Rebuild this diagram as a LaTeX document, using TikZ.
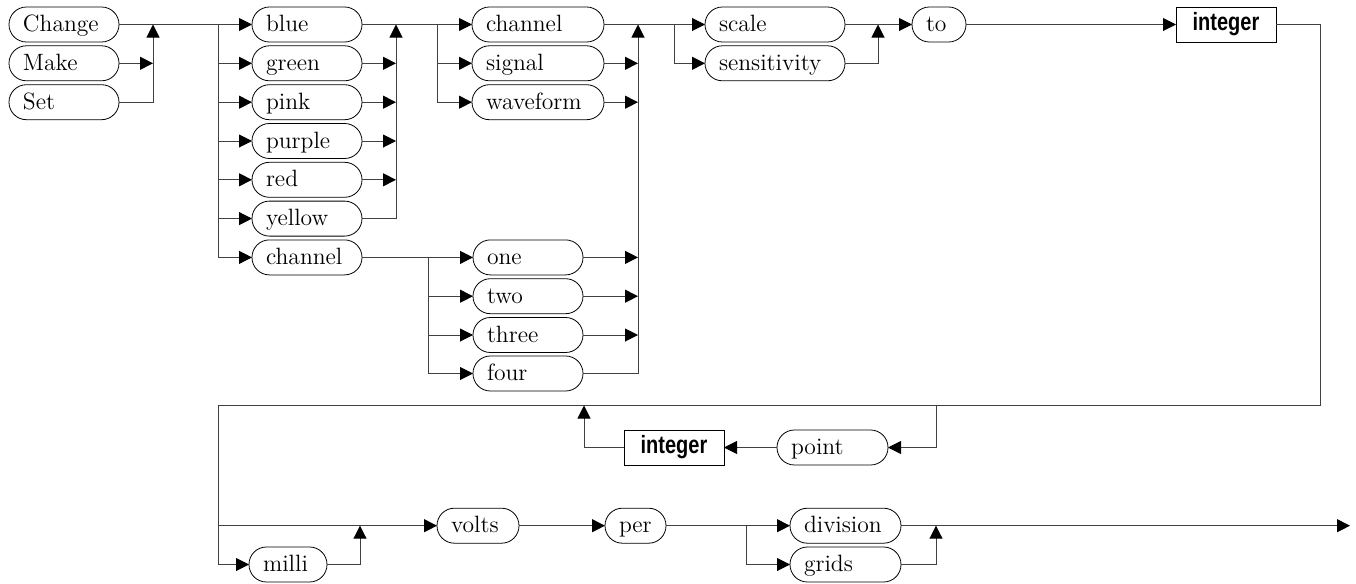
\documentclass[tikz,border=0pt]{standalone}
\usepackage{fontspec}
\usepackage{tikz}
\usetikzlibrary{arrows.meta}
\newfontfamily\intfont[FakeStretch=0.8]{Liberation Sans}

\tikzset{
  kw/.style={draw, rounded corners=8.7pt, minimum height=17.5pt, inner xsep=7pt, inner ysep=0pt,
    outer sep=0pt, anchor=west, text height=8.5pt, text depth=1.5pt, text width=#1, align=left},
  tok/.style={draw, rectangle, minimum height=17.5pt, minimum width=50pt, inner sep=0pt,
    outer sep=0pt, anchor=west, font=\intfont\bfseries\fontsize{12.5}{14}\selectfont},
  rail/.style={line width=0.5pt, draw=black!75},
}

\begin{document}
\begin{tikzpicture}[x=0.5pt, y=-0.5pt, >={Triangle[length=6.5pt,width=6.5pt,color=black]},
  every node/.append style={font=\fontsize{11.8}{13}\selectfont}]
		%%%%% START %%%%%
		\useasboundingbox (0,0) rectangle (1356,584);
		
		\node[kw=41pt] (change) at (9, 24.5) {Change};
		\node[kw=41pt] (make) at (9, 63.3) {Make};
		\node[kw=41pt] (set) at (9, 102.2) {Set};
		
		\node[kw=41pt] (blue) at (252, 24.5) {blue};
		\node[kw=41pt] (green) at (252, 63.3) {green};
		\node[kw=41pt] (pink) at (252, 102.2) {pink};
		\node[kw=41pt] (purple) at (252, 141) {purple};
		\node[kw=41pt] (red) at (252, 179.8) {red};
		\node[kw=41pt] (yellow) at (252, 218.6) {yellow};
		\node[kw=41pt] (chana) at (252, 257.4) {channel};
		
		\node[kw=41pt] (one) at (473, 257.4) {one};
		\node[kw=41pt] (two) at (473, 296.2) {two};
		\node[kw=41pt] (three) at (473, 335) {three};
		\node[kw=41pt] (four) at (473, 373.5) {four};
		
		\node[kw=52pt] (chanb) at (472, 24.5) {channel};
		\node[kw=52pt] (signal) at (472, 63.3) {signal};
		\node[kw=52pt] (waveform) at (472, 102.2) {waveform};
		
		\node[kw=56pt] (scale) at (705, 24.5) {scale};
		\node[kw=56pt] (sensitivity) at (705, 63.3) {sensitivity};
		
		\node[kw=13pt] (to) at (912, 24.5) {to};
		\node[tok] (inta) at (1176, 24.5) {integer};
		
		\node[kw=41.5pt] (point) at (777, 447.5) {point};
		\node[tok] (intb) at (624, 447.5) {integer};
		
		\node[kw=25pt] (milli) at (249, 564.5) {milli};
		\node[kw=27pt] (volts) at (437, 525.7) {volts};
		\node[kw=16.5pt] (per) at (605, 525.7) {per};
		\node[kw=41.5pt] (division) at (790, 525.7) {division};
		\node[kw=41.5pt] (grids) at (790, 564.5) {grids};
		
		% junctions
		\coordinate (m1) at (153, 24.5);
		\coordinate (b1) at (218, 24.5);
		\coordinate (m2) at (396, 24.5);
		\coordinate (b2) at (437, 24.5);
		\coordinate (b3) at (428, 257.4);
		\coordinate (m3) at (638, 24.5);
		\coordinate (b4) at (674, 24.5);
		\coordinate (m4) at (878, 24.5);
		\coordinate (lr) at (1320, 405.5);
		\coordinate (ll) at (218, 405.5);
		\coordinate (pb) at (936, 405.5);
		\coordinate (pm) at (584, 405.5);
		\coordinate (m6) at (360, 525.7);
		\coordinate (b5) at (746, 525.7);
		\coordinate (m5) at (936, 525.7);
		\coordinate (out) at (1350, 525.7);
		
		\draw[rail, ->] (change.east) -- (blue.west);
		\draw[rail, ->] (make.east) -- (make.east -| m1);
		\draw[rail, ->] (set.east) -| (m1);
		
		\foreach \c in {green,pink,purple,red,yellow,chana}
			\draw[rail, ->] (b1) |- (\c.west);
		\foreach \c in {green,pink,purple,red}
			\draw[rail, ->] (\c.east) -- (\c.east -| m2);
		\draw[rail, ->] (yellow.east) -| (m2);
		
		\draw[rail, ->] (blue.east) -- (chanb.west);
		\draw[rail, ->] (b2) |- (signal.west);
		\draw[rail, ->] (b2) |- (waveform.west);
		\draw[rail, ->] (signal.east) -- (signal.east -| m3);
		\draw[rail, ->] (waveform.east) -- (waveform.east -| m3);
		
		\draw[rail, ->] (chana.east) -- (one.west);
		\foreach \n in {two,three,four}
			\draw[rail, ->] (b3) |- (\n.west);
		\foreach \n in {one,two,three}
			\draw[rail, ->] (\n.east) -- (\n.east -| m3);
		\draw[rail, ->] (four.east) -| (m3);
		
		\draw[rail, ->] (chanb.east) -- (scale.west);
		\draw[rail, ->] (b4) |- (sensitivity.west);
		\draw[rail, ->] (sensitivity.east) -| (m4);
		\draw[rail, ->] (scale.east) -- (to.west);
		\draw[rail, ->] (to.east) -- (inta.west);
		
		\draw[rail] (inta.east) -| (lr) -- (ll);
		\draw[rail, ->] (pb) |- (point.east);
		\draw[rail, ->] (point.west) -- (intb.east);
		\draw[rail, ->] (intb.west) -| (pm);
		
		\draw[rail, ->] (ll) |- (volts.west);
		\draw[rail, ->] (ll) |- (milli.west);
		\draw[rail, ->] (milli.east) -| (m6);
		\draw[rail, ->] (volts.east) -- (per.west);
		\draw[rail, ->] (per.east) -- (division.west);
		\draw[rail, ->] (b5) |- (grids.west);
		\draw[rail, ->] (grids.east) -| (m5);
		\draw[rail, ->] (division.east) -- (out);
		%%%%% END %%%%%
	\end{tikzpicture}
\end{document}
